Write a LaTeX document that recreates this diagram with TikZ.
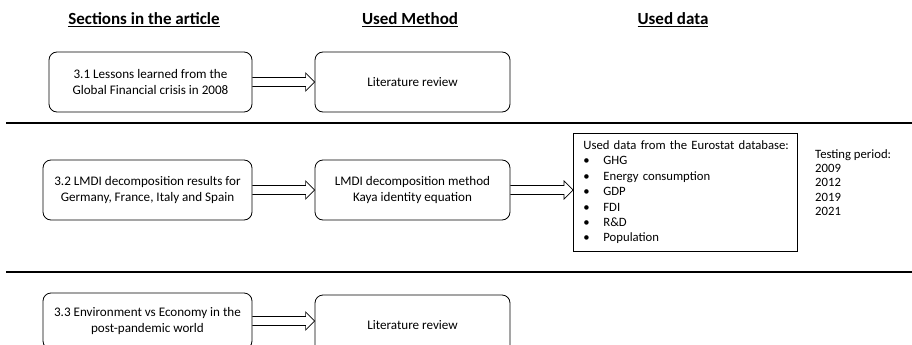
\documentclass[tikz,border=0pt]{standalone}
\usepackage{fontspec}
\setmainfont{Carlito}
\usetikzlibrary{calc}
\newcommand\blockarr[2]{%
  \draw[arrline] ($(#1.east)+(0,-4.5)$) -- ($(#2.west |- #1.east)+(-9,-4.5)$) -- ($(#2.west |- #1.east)+(-9,-9)$) -- (#2.west |- #1.east) -- ($(#2.west |- #1.east)+(-9,9)$) -- ($(#2.west |- #1.east)+(-9,4.5)$) -- ($(#1.east)+(0,4.5)$);}
\begin{document}
\begin{tikzpicture}[x=1pt,y=-1pt,
  body/.style={font=\fontsize{13.1}{15.5}\selectfont},
  sbox/.style={draw, rounded corners=8pt, line width=0.8pt, align=center, inner sep=0pt, body},
  head/.style={font=\fontsize{17}{19}\selectfont\bfseries, inner sep=0pt},
  arrline/.style={draw, line width=0.7pt, line join=miter},
  sep/.style={line width=2pt}]
\useasboundingbox (0,0) rectangle (912,345);
\clip (0,0) rectangle (912,345);
% headers
\node[head] (h1) at (144,20) {\underline{Sections in the article}};
\node[head] (h2) at (410,20) {\underline{Used Method}};
\node[head] (h3) at (673,20) {\underline{Used data}};
% row 1
\node[sbox, minimum width=203, minimum height=60] (s1) at (150.5,82) {3.1 Lessons learned from the\\Global Financial crisis in 2008};
\node[sbox, minimum width=195, minimum height=60] (m1) at (412.5,82) {Literature review};
\blockarr{s1}{m1}
% separator 1
\coordinate (l1a) at (6,123);
\coordinate (l1b) at (912,123);
\draw[sep] (l1a) -- (l1b);
% row 2
\node[sbox, minimum width=209, minimum height=60] (s2) at (147.5,190) {3.2 LMDI decomposition results for\\Germany, France, Italy and Spain};
\node[sbox, minimum width=195, minimum height=60] (m2) at (412.5,190) {LMDI decomposition method\\Kaya identity equation};
\node[draw, line width=0.8pt, anchor=north west, minimum width=224, minimum height=118, text width=204, inner xsep=10pt, inner ysep=0pt, align=left, font=\fontsize{12.7}{15.4}\selectfont] (d2) at (573,133) {\makebox[204pt][l]{Used data from the Eurostat database:}\\
\makebox[20pt][l]{\textbullet}GHG\\
\makebox[20pt][l]{\textbullet}Energy consumption\\
\makebox[20pt][l]{\textbullet}GDP\\
\makebox[20pt][l]{\textbullet}FDI\\
\makebox[20pt][l]{\textbullet}R\&D\\
\makebox[20pt][l]{\textbullet}Population};
\node[anchor=north west, inner sep=0pt, align=left, font=\fontsize{12.7}{14.4}\selectfont] (tp) at (815,149) {Testing period:\\2009\\2012\\2019\\2021};
\blockarr{s2}{m2}
\blockarr{m2}{d2}
% separator 2
\coordinate (l2a) at (6,272);
\coordinate (l2b) at (912,272);
\draw[sep] (l2a) -- (l2b);
% row 3
\node[sbox, minimum width=209, minimum height=56] (s3) at (147.5,321) {3.3 Environment vs Economy in the\\post-pandemic world};
\node[sbox, minimum width=195, minimum height=60] (m3) at (412.5,325) {Literature review};
\blockarr{s3}{m3}
\end{tikzpicture}
\end{document}
